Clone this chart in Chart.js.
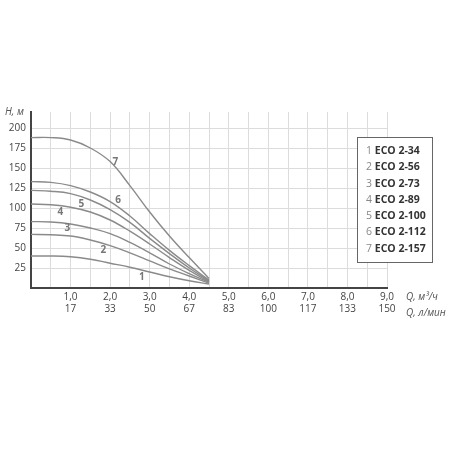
<!DOCTYPE html>
<html><head><meta charset="utf-8">
<script src="https://cdn.jsdelivr.net/npm/chart.js@4/dist/chart.umd.min.js"></script>
<style>
body{margin:0;background:#fff;font-family:"Open Sans",sans-serif}
#wrap{position:relative;width:450px;height:450px}
#legend{position:absolute;left:357px;top:137px;width:76px;height:126px;border:1px solid #666;background:#fff;font-size:10.5px;line-height:16.3px;padding:4px 0 0 8px;box-sizing:border-box}
#legend span{color:#888} #legend b{color:#333}
.lab{position:absolute;font-size:10px;color:#555;font-style:italic}
</style></head><body>
<div id="wrap"><canvas id="c" width="450" height="450"></canvas>
<div class="lab" style="left:5px;top:104px">H, м</div>
<div class="lab" style="left:406px;top:289px">Q, м³/ч</div>
<div class="lab" style="left:406px;top:305px">Q, л/мин</div>
<div id="legend"></div></div>
<script>
// flow, m3/h
const flow = [0, 0.5, 1.0, 1.5, 2.0, 2.5, 3.0, 3.5, 4.0, 4.5];
const models = ['ECO 2-34','ECO 2-56','ECO 2-73','ECO 2-89','ECO 2-100','ECO 2-112','ECO 2-157'];
// head, m
const head1 = [40, 40, 39, 36, 31, 26, 20, 14, 9, 5];
const head2 = [67, 66.5, 65, 60, 53, 44, 34, 24, 15, 6];
const head3 = [83, 82.5, 80, 75, 68, 57, 44, 30, 18, 7];
const head4 = [105, 104, 101, 95, 85, 71, 55, 38, 22, 8];
const head5 = [122, 121, 118, 110, 98, 82, 62, 43, 25, 9];
const head6 = [133, 132, 128, 120, 108, 90, 68, 47, 28, 10];
const head7 = [188, 188, 185, 175, 158, 128, 95, 65, 38, 12];
const heads = [head1, head2, head3, head4, head5, head6, head7];
// curve number label positions [Q, H]
const numPos = [[2.8,13],[1.83,47],[0.92,75],[0.74,95],[1.27,105],[2.2,110],[2.13,157]];
const xTicks = ['1,0','2,0','3,0','4,0','5,0','6,0','7,0','8,0','9,0'];
const lminTicks = ['17','33','50','67','83','100','117','133','150'];

document.getElementById('legend').innerHTML = models.map((m,i)=>`<span>${i+1}</span> <b>${m}</b>`).join('<br>');

const curveNums = {
  id:'curveNums',
  afterDatasetsDraw(chart){
    const ctx=chart.ctx, x=chart.scales.x, y=chart.scales.y;
    ctx.save(); ctx.fillStyle='#777'; ctx.font='bold 10px "Open Sans"';
    ctx.textAlign='center'; ctx.textBaseline='middle';
    numPos.forEach((p,i)=>ctx.fillText(String(i+1), x.getPixelForValue(p[0]), y.getPixelForValue(p[1])));
    ctx.restore();
  }
};

new Chart(document.getElementById('c'), {
  type:'line',
  data:{datasets: heads.map(h=>({
    data: flow.map((q,i)=>({x:q,y:h[i]})),
    borderColor:'#8a8a8a', borderWidth:1.4, pointRadius:0, tension:0.4, fill:false
  }))},
  options:{
    responsive:false, animation:false,
    layout:{padding:{left:0,top:112,right:63,bottom:126}},
    plugins:{legend:{display:false},tooltip:{enabled:false}},
    scales:{
      x:{type:'linear',min:0,max:9,
        afterFit(s){s.height=36;},
        afterBuildTicks(s){s.ticks=[];for(let v=0;v<=9;v+=0.5)s.ticks.push({value:v});},
        ticks:{autoSkip:false,maxRotation:0,color:'#444',font:{size:10,family:'"Open Sans"'},
          callback(v){const k=Math.round(v); if(v===0||v!==k) return ''; return [xTicks[k-1], lminTicks[k-1]];}},
        grid:{color:'#dcdcdc',drawTicks:false},
        border:{color:'#444',width:2}},
      y:{min:0,max:220,
        afterFit(s){s.width=31;},
        afterBuildTicks(s){s.ticks=[];for(let v=0;v<=200;v+=25)s.ticks.push({value:v});},
        ticks:{color:'#444',font:{size:10,family:'"Open Sans"'},padding:5,
          callback(v){return v===0?'':v;}},
        grid:{color:'#dcdcdc',drawTicks:false},
        border:{color:'#444',width:2}}
    }
  },
  plugins:[curveNums]
});
</script></body></html>
